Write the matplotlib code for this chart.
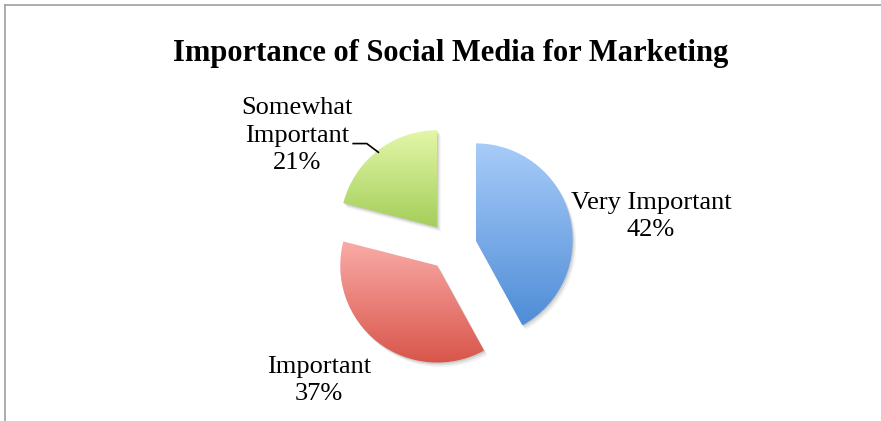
import matplotlib
matplotlib.use('Agg')
import matplotlib.pyplot as plt
from matplotlib.colors import LinearSegmentedColormap
from matplotlib.lines import Line2D
from matplotlib.patches import Wedge
import numpy as np

categories = ['Very Important', 'Important', 'Somewhat\nImportant']
shares = [42, 37, 21]
top_colors = ['#a9ccf9', '#f9aca8', '#e4f7a9']
bottom_colors = ['#4e8dd7', '#d9554a', '#a4ce5a']
label_pos = [(2.05, 0.31), (-1.37, -1.38), (-1.60, 1.14)]

fig = plt.figure(figsize=(8.81, 4.21), dpi=100)
ax = fig.add_axes([0, 0, 1, 1])

wedges, _ = ax.pie(shares, startangle=90, counterclock=False,
                   explode=[0.25] * len(shares), radius=1.0)
ax.set_xlim(-4.66, 4.42)
ax.set_ylim(-1.80, 2.54)
ax.set_aspect('auto')
ax.axis('off')

for w, c0, c1 in zip(wedges, top_colors, bottom_colors):
    w.set_facecolor('none')
    w.set_edgecolor('none')
    # soft drop shadow
    th1, th2 = w.theta1, w.theta2
    cx, cy = w.center
    for k, a in [(0.035, 0.05), (0.022, 0.07), (0.01, 0.09)]:
        ax.add_patch(Wedge((cx + k, cy - k * 1.3), 1.0, th1, th2,
                           facecolor='black', edgecolor='none', alpha=a, zorder=1))
    ext = w.get_path().get_extents(w.get_patch_transform())
    cmap = LinearSegmentedColormap.from_list('g', [c1, c0])
    grad = np.linspace(0, 1, 256).reshape(-1, 1)
    im = ax.imshow(grad, cmap=cmap, origin='lower', aspect='auto',
                   extent=[ext.x0, ext.x1, ext.y0, ext.y1], zorder=2)
    im.set_clip_path(w)

for name, v, (lx, ly) in zip(categories, shares, label_pos):
    ax.text(lx, ly, '{0}\n{1}%'.format(name, v), ha='center', va='center',
            fontsize=19, family='Liberation Serif', linespacing=1.32, zorder=3)

# leader line for the small slice
ax.plot([-1.02, -0.88, -0.76], [1.06, 1.06, 0.97], color='black', lw=1.2, zorder=3)

fig.text(451 / 881, 1 - 54 / 421, 'Importance of Social Media for Marketing',
         ha='center', va='center', fontsize=22, fontweight='bold',
         family='Liberation Serif')

fig.add_artist(Line2D([5 / 881, 1], [1 - 5 / 421] * 2, color='#a6a6a6', lw=1.3))
fig.add_artist(Line2D([5 / 881] * 2, [0, 1 - 5 / 421], color='#a6a6a6', lw=1.3))

fig.savefig('out.png', dpi=100)
